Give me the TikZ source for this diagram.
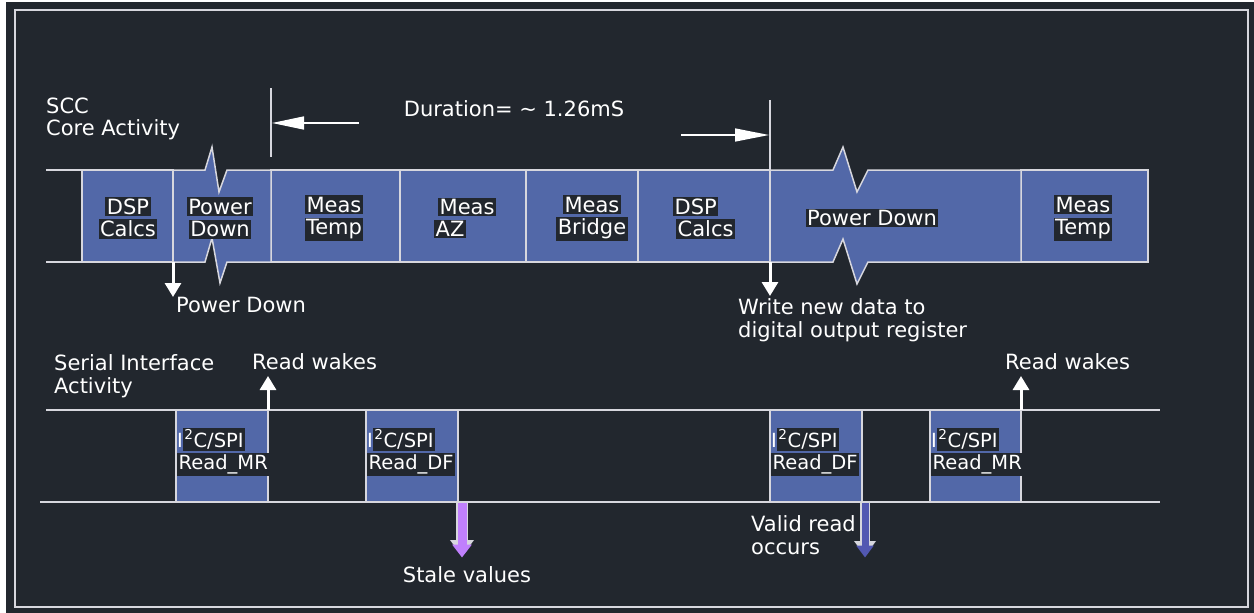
\documentclass[tikz,border=0pt]{standalone}
\usepackage{fontspec}
\setmainfont{DejaVu Sans}
\usetikzlibrary{positioning,arrows.meta}

\definecolor{panel}{RGB}{34,39,46}
\definecolor{cellblue}{RGB}{82,104,168}
\definecolor{rule}{RGB}{215,215,222}
\definecolor{stale}{RGB}{192,128,252}
\definecolor{validblue}{RGB}{82,88,178}
\setlength{\fboxsep}{1.5pt}
\newcommand{\hl}[1]{\colorbox{panel}{#1}}

\begin{document}
\begin{tikzpicture}[x=1pt, y=-1pt,
    every node/.style={inner sep=0pt, text=white, font=\fontsize{21}{22.5}\selectfont},
    cell/.style={rectangle, draw=rule, line width=1.5pt, fill=cellblue, minimum height=92pt, outer sep=0pt},
    rdlabel/.style={anchor=west, align=left, font=\fontsize{19.5}{22.5}\selectfont},
    wake/.style={-{Triangle[width=16pt,length=14pt]}, line width=3pt, white}]
        \useasboundingbox (0,0) rectangle (1254,613);
        \fill[white] (0,0) rectangle (1254,613);
        \fill[panel] (6,2) rectangle (1254,613);
        \draw[rule, line width=1.5pt] (15,10) rectangle (1248,607);

        %% SCC core activity band
        \node[cell, minimum width=91pt] (dsp1) at (127.5,216) {};
        \node[cell, minimum width=129pt] (mtemp1) at (335.5,216) {};
        \node[cell, minimum width=126pt] (maz) at (463,216) {};
        \node[cell, minimum width=112pt] (mbridge) at (582,216) {};
        \node[cell, minimum width=132pt] (dsp2) at (704,216) {};
        \node[cell, minimum width=127pt] (mtemp2) at (1084.5,216) {};

        % power down cells with break marks
        \filldraw[fill=cellblue, draw=rule, line width=1.5pt] (173,170) -- (205,170) -- (212,147) -- (219,192) -- (227,170) -- (271,170)
            -- (271,262) -- (227,262) -- (220,283) -- (212,238) -- (205,262) -- (173,262) -- cycle;
        \filldraw[fill=cellblue, draw=rule, line width=1.5pt] (770,170) -- (833,170) -- (843,147) -- (857,192) -- (868,170) -- (1021,170)
            -- (1021,262) -- (868,262) -- (857,284) -- (843,239) -- (833,262) -- (770,262) -- cycle;

        \draw[rule, line width=1.5pt] (46,170) -- (dsp1.north west);
        \draw[rule, line width=1.5pt] (46,262) -- (dsp1.south west);

        %% Duration markers
        \coordinate (durLtop) at (271,88);
        \coordinate (durLbot) at (271,157);
        \coordinate (durLtail) at (359,123);
        \coordinate (durLtip) at (272,123);
        \coordinate (durRtop) at (770,100);
        \coordinate (durRtail) at (681,135);
        \coordinate (durRtip) at (769,135);
        \draw[rule, line width=1.5pt] (durLtop) -- (durLbot);
        \draw[rule, line width=1.5pt] (durRtop) -- (dsp2.north east);
        \draw[-{Triangle[width=13pt,length=32pt]}, line width=1.5pt, white] (durLtail) -- (durLtip);
        \draw[-{Triangle[width=13pt,length=34pt]}, line width=1.5pt, white] (durRtail) -- (durRtip);
        \node (dur) at (514,109) {Duration= \textasciitilde\ 1.26mS};

        %% Core labels
        \node[anchor=west, align=left] (scc) at (46,119) {SCC\\Core Activity};
        \node[align=center] (t-dsp1) at (128,218) {\hl{DSP}\\\hl{Calcs}};
        \node[align=center] (t-pd1) at (220,218) {\hl{Power}\\\hl{Down}};
        \node[align=center] (t-mt1) at (334,218) {\hl{Meas}\\\hl{Temp}};
        \node[anchor=west, align=left] (t-maz) at (434,218) {\hspace*{4pt}\hl{Meas}\\\hl{AZ}};
        \node[align=center] (t-mb) at (592,218) {\hl{Meas}\\\hl{Bridge}};
        \node[anchor=west, align=left] (t-dsp2) at (673,218) {\hl{DSP}\\\hspace*{3pt}\hl{Calcs}};
        \node (t-pd2) at (872,218) {\hl{Power Down}};
        \node[align=center] (t-mt2) at (1083,218) {\hl{Meas}\\\hl{Temp}};

        %% Events below the core band
        \coordinate (pdtip) at (173,297);
        \coordinate (wrtip) at (770,296);
        \draw[wake] (dsp1.south east) -- (pdtip);
        \draw[wake] (dsp2.south east) -- (wrtip);
        \node[below right=0pt and 3pt of pdtip, anchor=north west] (pdtxt) {Power Down};
        \node[anchor=west, align=left] (wr) at (738,320) {Write new data to\\digital output register};

        %% Serial interface band
        \draw[rule, line width=1.5pt] (46,410) -- (1160,410);
        \draw[rule, line width=1.5pt] (40,502) -- (1160,502);
        \node[cell, minimum width=92pt] (rmr1) at (222,456) {};
        \node[cell, minimum width=92pt] (rdf1) at (412,456) {};
        \node[cell, minimum width=92pt] (rdf2) at (816,456) {};
        \node[cell, minimum width=91pt] (rmr2) at (975.5,456) {};

        \node[anchor=west, align=left] (sia) at (54,376) {Serial Interface\\Activity};
        \node[rdlabel] (l-rmr1) at (177,452) {I\hl{\textsuperscript{2}C/SPI}\\\hl{Read\_MR}};
        \node[rdlabel] (l-rdf1) at (367,452) {I\hl{\textsuperscript{2}C/SPI}\\\hl{Read\_DF}};
        \node[rdlabel] (l-rdf2) at (771,452) {I\hl{\textsuperscript{2}C/SPI}\\\hl{Read\_DF}};
        \node[rdlabel] (l-rmr2) at (931,452) {I\hl{\textsuperscript{2}C/SPI}\\\hl{Read\_MR}};

        %% Read wakes
        \coordinate (wake1) at (268,376);
        \coordinate (wake2) at (1021,376);
        \draw[wake] (rmr1.north east) -- (wake1);
        \draw[wake] (rmr2.north east) -- (wake2);
        \node[anchor=west] (wake1txt) at (252,362) {Read wakes};
        \node[anchor=west] (wake2txt) at (1005,362) {Read wakes};

        %% Stale / valid reads
        \coordinate (stale0) at (462,503);
        \coordinate (stale1) at (462,556);
        \coordinate (valid0) at (865,503);
        \coordinate (valid1) at (865,556);
        \draw[-{Triangle[width=23pt,length=16pt]}, line width=12pt, rule] (stale0) -- (stale1);
        \draw[-{Triangle[width=19pt,length=13pt]}, line width=9pt, stale] (stale0) -- ([yshift=-1.5pt]stale1);
        \draw[-{Triangle[width=21pt,length=15pt]}, line width=10pt, rule] (valid0) -- (valid1);
        \draw[-{Triangle[width=17pt,length=12pt]}, line width=7pt, validblue] (valid0) -- ([yshift=-1.5pt]valid1);
        \node (staletxt) at (467,575) {Stale values};
        \node[anchor=west, align=left] (validtxt) at (751,535) {Valid read\\occurs};
    \end{tikzpicture}
\end{document}
